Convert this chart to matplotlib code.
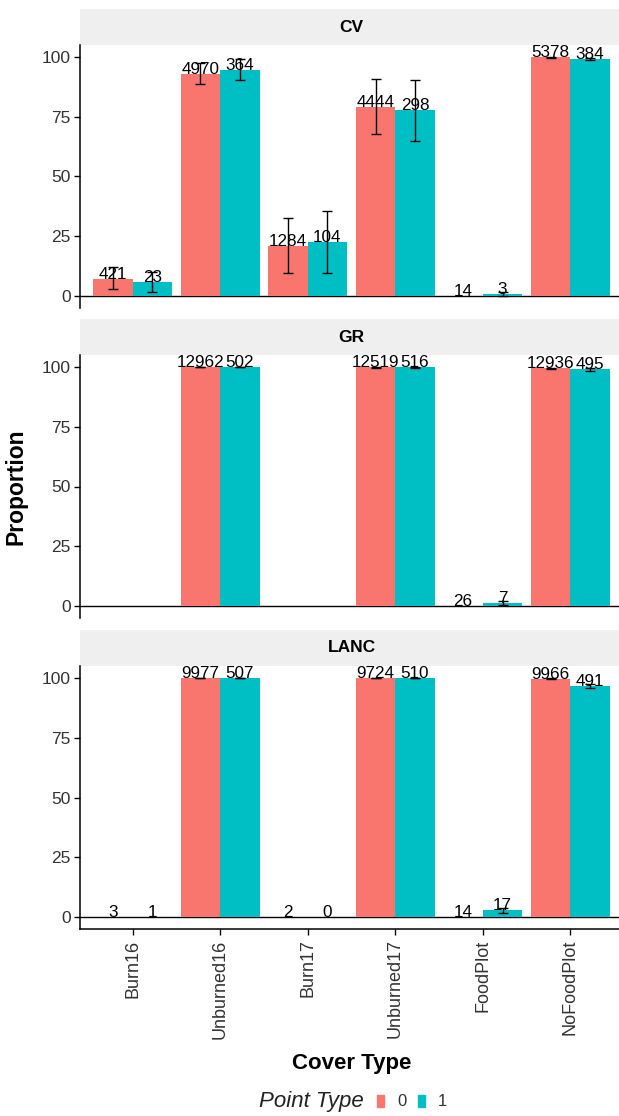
#! /usr/bin/env python3
# coding: utf-8

"""
    Proportion of points per cover type, split by site (CV, GR, LANC)
    and point type (0 / 1), with the number of points over each bar.
"""

import numpy as np
import matplotlib
matplotlib.use("Agg")
import matplotlib.pyplot as plt
from matplotlib.patches import Rectangle

plt.rcParams['font.family'] = ['Liberation Sans', 'DejaVu Sans']

nan = np.nan

cover_types = ['Burn16', 'Unburned16', 'Burn17', 'Unburned17', 'FoodPlot', 'NoFoodPlot']
sites = ['CV', 'GR', 'LANC']
point_types = ['0', '1']
colors = ['#F8766D', '#00BFC4']

# proportions (%) and their error bars, point type 0
cv_prop0 = [7.1, 92.9, 21.0, 79.2, 0.0, 99.9]
cv_low0 = [2.9, 88.7, 9.8, 67.8, nan, 99.6]
cv_high0 = [12.0, 97.4, 32.5, 90.8, nan, 100.0]
gr_prop0 = [nan, 100.0, nan, 99.8, 0.2, 99.5]
gr_low0 = [nan, 99.9, nan, 99.6, nan, 99.3]
gr_high0 = [nan, 100.0, nan, 99.9, nan, 99.7]
lanc_prop0 = [0.0, 100.0, 0.0, 100.0, 0.0, 99.7]
lanc_low0 = [nan, 100.0, nan, 99.9, nan, 99.5]
lanc_high0 = [nan, 100.0, nan, 100.0, nan, 99.9]

# point type 1
cv_prop1 = [5.7, 94.6, 22.7, 77.8, 0.8, 99.3]
cv_low1 = [1.7, 90.4, 9.8, 64.7, 0.0, 98.9]
cv_high1 = [10.0, 99.0, 35.7, 90.5, 1.7, 99.7]
gr_prop1 = [nan, 99.9, nan, 99.9, 1.2, 99.0]
gr_low1 = [nan, 99.8, nan, 99.7, 0.3, 98.4]
gr_high1 = [nan, 100.0, nan, 100.0, 2.0, 99.6]
lanc_prop1 = [0.0, 100.0, 0.0, 99.9, 2.8, 96.7]
lanc_low1 = [nan, 100.0, nan, 99.8, 1.8, 95.9]
lanc_high1 = [nan, 100.0, nan, 100.0, 3.9, 97.6]

# number of points (bar labels)
cv_n0 = [421, 4970, 1284, 4444, 14, 5378]
cv_n1 = [23, 364, 104, 298, 3, 384]
gr_n0 = [None, 12962, None, 12519, 26, 12936]
gr_n1 = [None, 502, None, 516, 7, 495]
lanc_n0 = [3, 9977, 2, 9724, 14, 9966]
lanc_n1 = [1, 507, 0, 510, 17, 491]

panels = {
    'CV': [(cv_prop0, cv_low0, cv_high0, cv_n0), (cv_prop1, cv_low1, cv_high1, cv_n1)],
    'GR': [(gr_prop0, gr_low0, gr_high0, gr_n0), (gr_prop1, gr_low1, gr_high1, gr_n1)],
    'LANC': [(lanc_prop0, lanc_low0, lanc_high0, lanc_n0), (lanc_prop1, lanc_low1, lanc_high1, lanc_n1)],
}

W, H = 619, 1116
fig = plt.figure(figsize=(W / 100, H / 100), dpi=100)

# panel boxes in pixels from the top: (top, bottom)
boxes = [(45, 308), (355, 618), (666, 929)]
strip_h = 36
left_px, right_px = 80, 623

x = np.arange(1, len(cover_types) + 1)
width = 0.45

for k, site in enumerate(sites):
    top, bottom = boxes[k]

    # facet strip
    sax = fig.add_axes([left_px / W, 1 - top / H, (right_px - left_px) / W, strip_h / H])
    sax.set_facecolor('#EFEFEF')
    sax.set_xticks([])
    sax.set_yticks([])
    for s in sax.spines.values():
        s.set_visible(False)
    sax.text(0.5, 0.5, site, ha='center', va='center', fontsize=12.5, fontweight='bold',
             transform=sax.transAxes)

    ax = fig.add_axes([left_px / W, 1 - bottom / H, (right_px - left_px) / W, (bottom - top) / H])
    ax.patch.set_alpha(0)

    for j, (prop, low, high, n) in enumerate(panels[site]):
        prop = np.array(prop, dtype=float)
        low = np.array(low, dtype=float)
        high = np.array(high, dtype=float)
        xpos = x + (j - 0.5) * width
        ax.bar(xpos, prop, width=width, color=colors[j], zorder=2)
        err = np.vstack([prop - low, high - prop])
        ok = ~np.isnan(low)
        ax.errorbar(xpos[ok], prop[ok], yerr=err[:, ok], fmt='none', ecolor='black',
                    elinewidth=1.0, capsize=3.5, capthick=1.0, zorder=3)
        for xi, yi, ni in zip(xpos, prop, n):
            if ni is None or np.isnan(yi):
                continue
            ax.text(xi, yi, str(ni), ha='center', va='baseline', fontsize=12.3,
                    color='black', zorder=4)

    ax.axhline(0, color='black', lw=1.0, zorder=1)
    ax.set_xlim(0.4, 6.6)
    ax.set_ylim(-5, 105)
    ax.set_yticks([0, 25, 50, 75, 100])
    ax.tick_params(axis='y', length=4.5, width=1.0, labelsize=12.5, labelcolor='#333333', pad=2)
    for side in ['top', 'right']:
        ax.spines[side].set_visible(False)
    ax.spines['left'].set_linewidth(1.1)

    if k == len(sites) - 1:
        ax.set_xticks(x)
        ax.set_xticklabels(cover_types, rotation=90, fontsize=13, color='#333333')
        ax.tick_params(axis='x', length=4.5, width=1.0, pad=3)
        ax.spines['bottom'].set_linewidth(1.1)
        ax.set_xlabel('Cover Type', fontsize=16, fontweight='bold', labelpad=10)
    else:
        ax.set_xticks([])
        ax.spines['bottom'].set_visible(False)

fig.text(16 / W, 1 - 487 / H, 'Proportion', rotation=90, ha='center', va='center',
         fontsize=16.5, fontweight='bold')

# legend along the bottom
fig.text(364 / W, 1 - 1101 / H, 'Point Type', ha='right', va='center', fontsize=16,
         style='italic', color='#222222')
for j, (lab, col) in enumerate(zip(point_types, colors)):
    x0 = 377 + j * 41
    fig.patches.append(Rectangle((x0 / W, 1 - 1107 / H), 7 / W, 12 / H,
                                 transform=fig.transFigure, color=col))
    fig.text((x0 + 20) / W, 1 - 1101 / H, lab, ha='left', va='center', fontsize=12,
             color='#333333')

fig.savefig('out.png', dpi=100)
